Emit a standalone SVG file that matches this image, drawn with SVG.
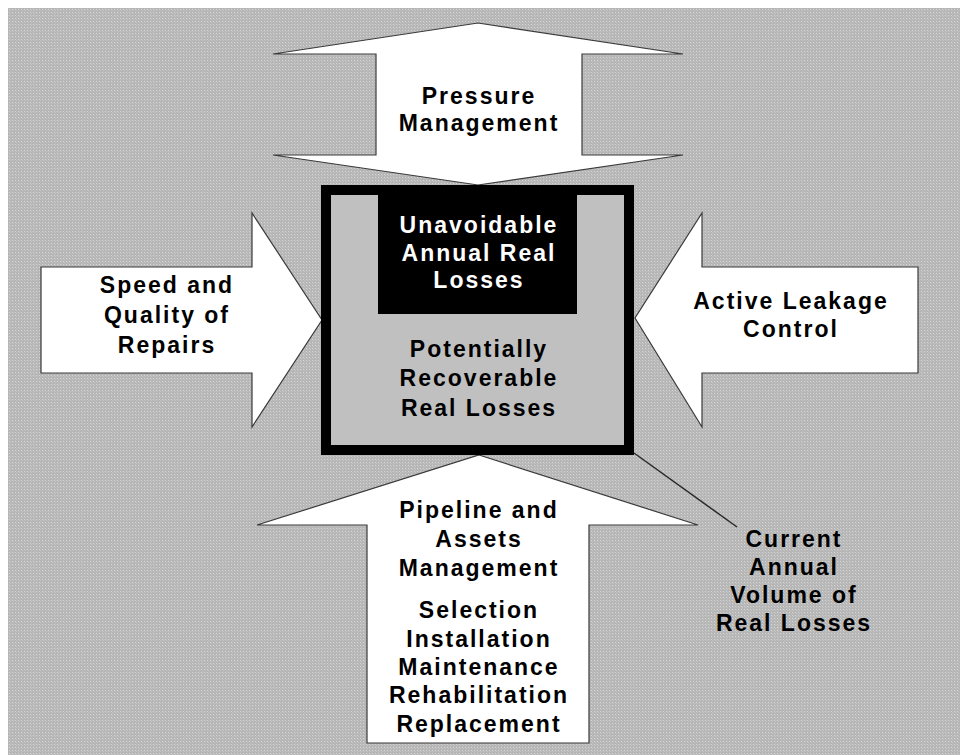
<svg xmlns="http://www.w3.org/2000/svg" width="960" height="755" viewBox="0 0 960 755">
  <defs>
    <pattern id="dots" width="3" height="3" patternUnits="userSpaceOnUse">
      <rect width="3" height="3" fill="#b6b6b6"/>
      <rect width="1" height="1" fill="#d6d6d6"/>
      <rect x="1" y="1" width="1" height="1" fill="#c4c4c4"/>
    </pattern>
  </defs>
  <style>
    .arrow { fill: #ffffff; stroke: #3a3a3a; stroke-width: 1.2; stroke-linejoin: miter; }
    .lbl { font-family: "Liberation Sans", Arial, sans-serif; font-weight: bold; font-size: 23px; letter-spacing: 2px; text-anchor: middle; fill: #000000; }
    .lbl-w { fill: #ffffff; }
    .callout { stroke: #2a2a2a; stroke-width: 1.5; fill: none; }
  </style>

  <!-- page background -->
  <rect width="960" height="755" fill="#ffffff"/>
  <rect x="8" y="8" width="952" height="747" fill="url(#dots)"/>

  <!-- Pressure Management: double-headed vertical arrow -->
  <g id="pressure-management">
    <path class="arrow" d="M478,23 L683,54 L582,54 L582,155 L683,155 L478,185 L273,155 L376,155 L376,54 L273,54 Z"/>
    <text class="lbl" x="479" y="104">Pressure</text>
    <text class="lbl" x="479" y="131">Management</text>
  </g>

  <!-- Speed and Quality of Repairs: arrow from the left -->
  <g id="speed-quality-repairs">
    <path class="arrow" d="M41,267 L252,267 L252,213 L322,320 L252,427 L252,373 L41,373 Z"/>
    <text class="lbl" x="167" y="293">Speed and</text>
    <text class="lbl" x="167" y="323">Quality of</text>
    <text class="lbl" x="167" y="353">Repairs</text>
  </g>

  <!-- Active Leakage Control: arrow from the right -->
  <g id="active-leakage-control">
    <path class="arrow" d="M918,267 L702,267 L702,213 L635,318 L702,427 L702,373 L918,373 Z"/>
    <text class="lbl" x="791" y="309">Active Leakage</text>
    <text class="lbl" x="791" y="337">Control</text>
  </g>

  <!-- Pipeline and Assets Management: arrow from below -->
  <g id="pipeline-assets-management">
    <path class="arrow" d="M479,455 L698,525 L589,525 L589,743 L367,743 L367,525 L257,525 Z"/>
    <text class="lbl" x="479" y="518">Pipeline and</text>
    <text class="lbl" x="479" y="547">Assets</text>
    <text class="lbl" x="479" y="576">Management</text>
    <text class="lbl" x="479" y="618">Selection</text>
    <text class="lbl" x="479" y="647">Installation</text>
    <text class="lbl" x="479" y="675">Maintenance</text>
    <text class="lbl" x="479" y="703">Rehabilitation</text>
    <text class="lbl" x="479" y="732">Replacement</text>
  </g>

  <!-- Central losses box -->
  <g id="real-losses-box">
    <rect x="326" y="190" width="303" height="260" fill="#c0c0c0" stroke="#000000" stroke-width="10"/>
    <text class="lbl" x="479" y="357">Potentially</text>
    <text class="lbl" x="479" y="386">Recoverable</text>
    <text class="lbl" x="479" y="416">Real Losses</text>
  </g>

  <g id="unavoidable-losses">
    <rect x="378" y="195" width="199" height="119" fill="#000000"/>
    <text class="lbl lbl-w" x="479" y="233">Unavoidable</text>
    <text class="lbl lbl-w" x="479" y="261">Annual Real</text>
    <text class="lbl lbl-w" x="479" y="288">Losses</text>
  </g>

  <!-- Callout label -->
  <g id="current-annual-volume">
    <text class="lbl" x="794" y="547">Current</text>
    <text class="lbl" x="794" y="575">Annual</text>
    <text class="lbl" x="794" y="603">Volume of</text>
    <text class="lbl" x="794" y="631">Real Losses</text>
  </g>

  <!-- Connectors -->
  <g id="connectors">
    <line class="callout" x1="634" y1="453" x2="737" y2="527"/>
  </g>
</svg>
